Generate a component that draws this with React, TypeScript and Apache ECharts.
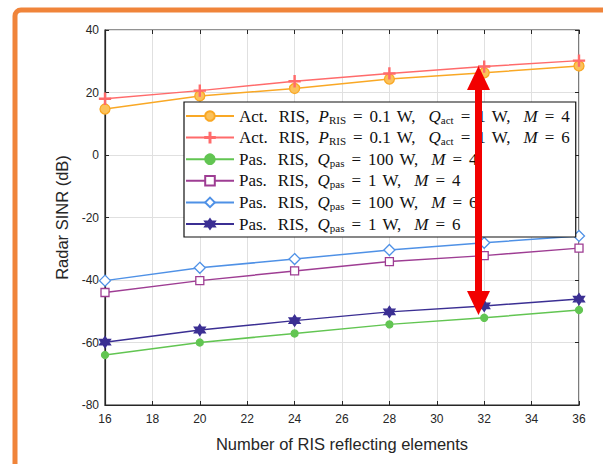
import React, { useEffect, useRef } from "react";
import * as echarts from "echarts";

const xValues = [16, 20, 24, 28, 32, 36];
const actM4 = [14.7, 18.9, 21.3, 24.3, 26.3, 28.5];
const actM6 = [18.0, 20.6, 23.6, 26.1, 28.3, 30.2];
const pas100M4 = [-64.0, -60.0, -57.1, -54.2, -52.1, -49.6];
const pas1M4 = [-44.0, -40.2, -37.1, -34.1, -32.2, -29.8];
const pas100M6 = [-40.2, -36.1, -33.3, -30.4, -28.1, -25.9];
const pas1M6 = [-59.9, -56.0, -53.0, -50.2, -48.3, -46.1];

const seriesNames = [
  "Act. RIS, P_RIS = 0.1 W, Q_act = 1 W, M = 4",
  "Act. RIS, P_RIS = 0.1 W, Q_act = 1 W, M = 6",
  "Pas. RIS, Q_pas = 100 W, M = 4",
  "Pas. RIS, Q_pas = 1 W, M = 4",
  "Pas. RIS, Q_pas = 100 W, M = 6",
  "Pas. RIS, Q_pas = 1 W, M = 6",
];

const xTicks = { min: 16, max: 36, interval: 2 };
const yTicks = { min: -80, max: 40, interval: 20 };

const PLUS = "path://M-1,-10H1V-1H10V1H1V10H-1V1H-10V-1H-1Z";
const HEX =
  "path://M0,-10L2.89,-5L8.66,-5L5.77,0L8.66,5L2.89,5L0,10L-2.89,5L-8.66,5L-5.77,0L-8.66,-5L-2.89,-5Z";

// build LaTeX-like rich label from a series name
function richLabel(name: string): string {
  const parts: string[] = [];
  const gap = (w: number) => parts.push(`{g${w}| }`);
  const m = name.match(/^(Act\.|Pas\.) RIS, (.*)$/);
  if (!m) return name;
  parts.push(`{n|${m[1]}}`);
  gap(11);
  parts.push(`{n|RIS,}`);
  gap(9);
  const clauses = m[2].split(", ");
  clauses.forEach((c, idx) => {
    const [lhs, rhs] = c.split(" = ");
    const [v, sub] = lhs.split("_");
    parts.push(`{i|${v}}`);
    if (sub) parts.push(`{s|${sub}}`);
    gap(7);
    parts.push(`{n|=}`);
    gap(7);
    const rs = rhs.split(" ");
    parts.push(`{n|${rs[0]}}`);
    if (rs[1]) {
      gap(6);
      parts.push(`{n|${rs[1]}${idx < clauses.length - 1 ? "," : ""}}`);
    }
    if (idx < clauses.length - 1) gap(13);
  });
  return parts.join("");
}

export default function App() {
  const ref = useRef<HTMLDivElement>(null);
  useEffect(() => {
    if (!ref.current) return;
    const chart = echarts.init(ref.current, undefined, { renderer: "svg" });
    const axisFont = "Liberation Sans, Arial, sans-serif";
    const serif = "Liberation Serif, serif";
    const mk = (
      name: string,
      data: number[],
      color: string,
      symbol: string,
      size: number,
      fill: string
    ) => ({
      name,
      type: "line",
      data: xValues.map((x, i) => [x, data[i]]),
      symbol,
      symbolSize: size,
      showSymbol: true,
      lineStyle: { color, width: 1.5 },
      itemStyle: { color: fill, borderColor: color, borderWidth: 1.3 },
      z: 3,
    });
    const sideAxis = {
      show: true,
      axisLine: { show: false, onZero: false },
      axisTick: { show: true, inside: true, length: 4, lineStyle: { color: "#262626" } },
      axisLabel: { show: false },
      splitLine: { show: false },
    };
    const gapStyles: Record<string, any> = {};
    [6, 7, 9, 11, 13].forEach((w) => {
      gapStyles["g" + w] = { width: w, fontSize: 17, fontFamily: serif, lineHeight: 18 };
    });
    chart.setOption({
      animation: false,
      backgroundColor: "#fff",
      grid: {
        left: 105,
        right: 24,
        top: 30,
        bottom: 59,
        show: true,
        borderColor: "#262626",
        borderWidth: 1.2,
        backgroundColor: "#fff",
      },
      xAxis: [
        {
          type: "value",
          ...xTicks,
          name: "Number of RIS reflecting elements",
          nameLocation: "middle",
          nameGap: 30,
          nameTextStyle: { fontFamily: axisFont, fontSize: 16.5, color: "#262626" },
          axisLine: { show: true, onZero: false, lineStyle: { color: "#262626", width: 1.2 } },
          axisTick: { show: true, inside: true, length: 4, lineStyle: { color: "#262626" } },
          axisLabel: { fontFamily: axisFont, fontSize: 12, color: "#262626", margin: 8 },
          splitLine: { show: true, lineStyle: { color: "#e0e0e0", width: 1 } },
        },
        { type: "value", ...xTicks, position: "top", ...sideAxis },
      ],
      yAxis: [
        {
          type: "value",
          ...yTicks,
          name: "Radar SINR (dB)",
          nameLocation: "middle",
          nameGap: 33,
          nameTextStyle: { fontFamily: axisFont, fontSize: 16.5, color: "#262626" },
          axisLine: { show: true, onZero: false, lineStyle: { color: "#262626", width: 1.2 } },
          axisTick: { show: true, inside: true, length: 4, lineStyle: { color: "#262626" } },
          axisLabel: { fontFamily: axisFont, fontSize: 12, color: "#262626", margin: 6 },
          splitLine: { show: true, lineStyle: { color: "#e0e0e0", width: 1 } },
        },
        { type: "value", ...yTicks, position: "right", ...sideAxis },
      ],
      legend: {
        data: seriesNames,
        orient: "vertical",
        left: 184,
        top: 102,
        padding: [5, 6, 4, 1],
        itemGap: 3.6,
        itemWidth: 48,
        itemHeight: 12,
        backgroundColor: "#fff",
        borderColor: "#111",
        borderWidth: 1.2,
        z: 4,
        formatter: (name: string) => richLabel(name),
        textStyle: {
          color: "#111",
          lineHeight: 18,
          rich: {
            n: { fontFamily: serif, fontSize: 17, color: "#111", lineHeight: 18 },
            i: { fontFamily: serif, fontSize: 17, fontStyle: "italic", color: "#111", lineHeight: 18 },
            s: { fontFamily: serif, fontSize: 11, color: "#111", padding: [7, 0, 0, 0], lineHeight: 18 },
            ...gapStyles,
          },
        },
      },
      series: [
        mk(seriesNames[0], actM4, "#F9A825", "circle", 10, "#FBC15A"),
        mk(seriesNames[1], actM6, "#FF6B6B", PLUS, 11, "#FF6B6B"),
        mk(seriesNames[2], pas100M4, "#62C552", "circle", 7, "#62C552"),
        mk(seriesNames[3], pas1M4, "#9E3D93", "rect", 8, "#ffffff"),
        mk(seriesNames[4], pas100M6, "#4F91E6", "diamond", 11, "#ffffff"),
        mk(seriesNames[5], pas1M6, "#3B2F93", HEX, 11, "#3B2F93"),
      ],
      graphic: [
        {
          type: "rect",
          z: 100,
          zlevel: 1,
          shape: { x: 15, y: 10, width: 640, height: 520, r: 6 },
          style: { fill: "none", stroke: "#F0843A", lineWidth: 5 },
          silent: true,
        },
        {
          type: "rect",
          z: 100,
          zlevel: 1,
          shape: { x: 475, y: 86, width: 7, height: 210 },
          style: { fill: "#F20000" },
          silent: true,
        },
        {
          type: "polygon",
          z: 100,
          zlevel: 1,
          shape: { points: [[478.5, 66], [467, 90], [490, 90]] },
          style: { fill: "#F20000" },
          silent: true,
        },
        {
          type: "polygon",
          z: 100,
          zlevel: 1,
          shape: { points: [[478.5, 315], [467, 291], [490, 291]] },
          style: { fill: "#F20000" },
          silent: true,
        },
      ],
    });
    return () => chart.dispose();
  }, []);
  return (
    <div
      ref={ref}
      style={{ position: "fixed", left: 0, top: 0, width: 603, height: 464 }}
    />
  );
}
